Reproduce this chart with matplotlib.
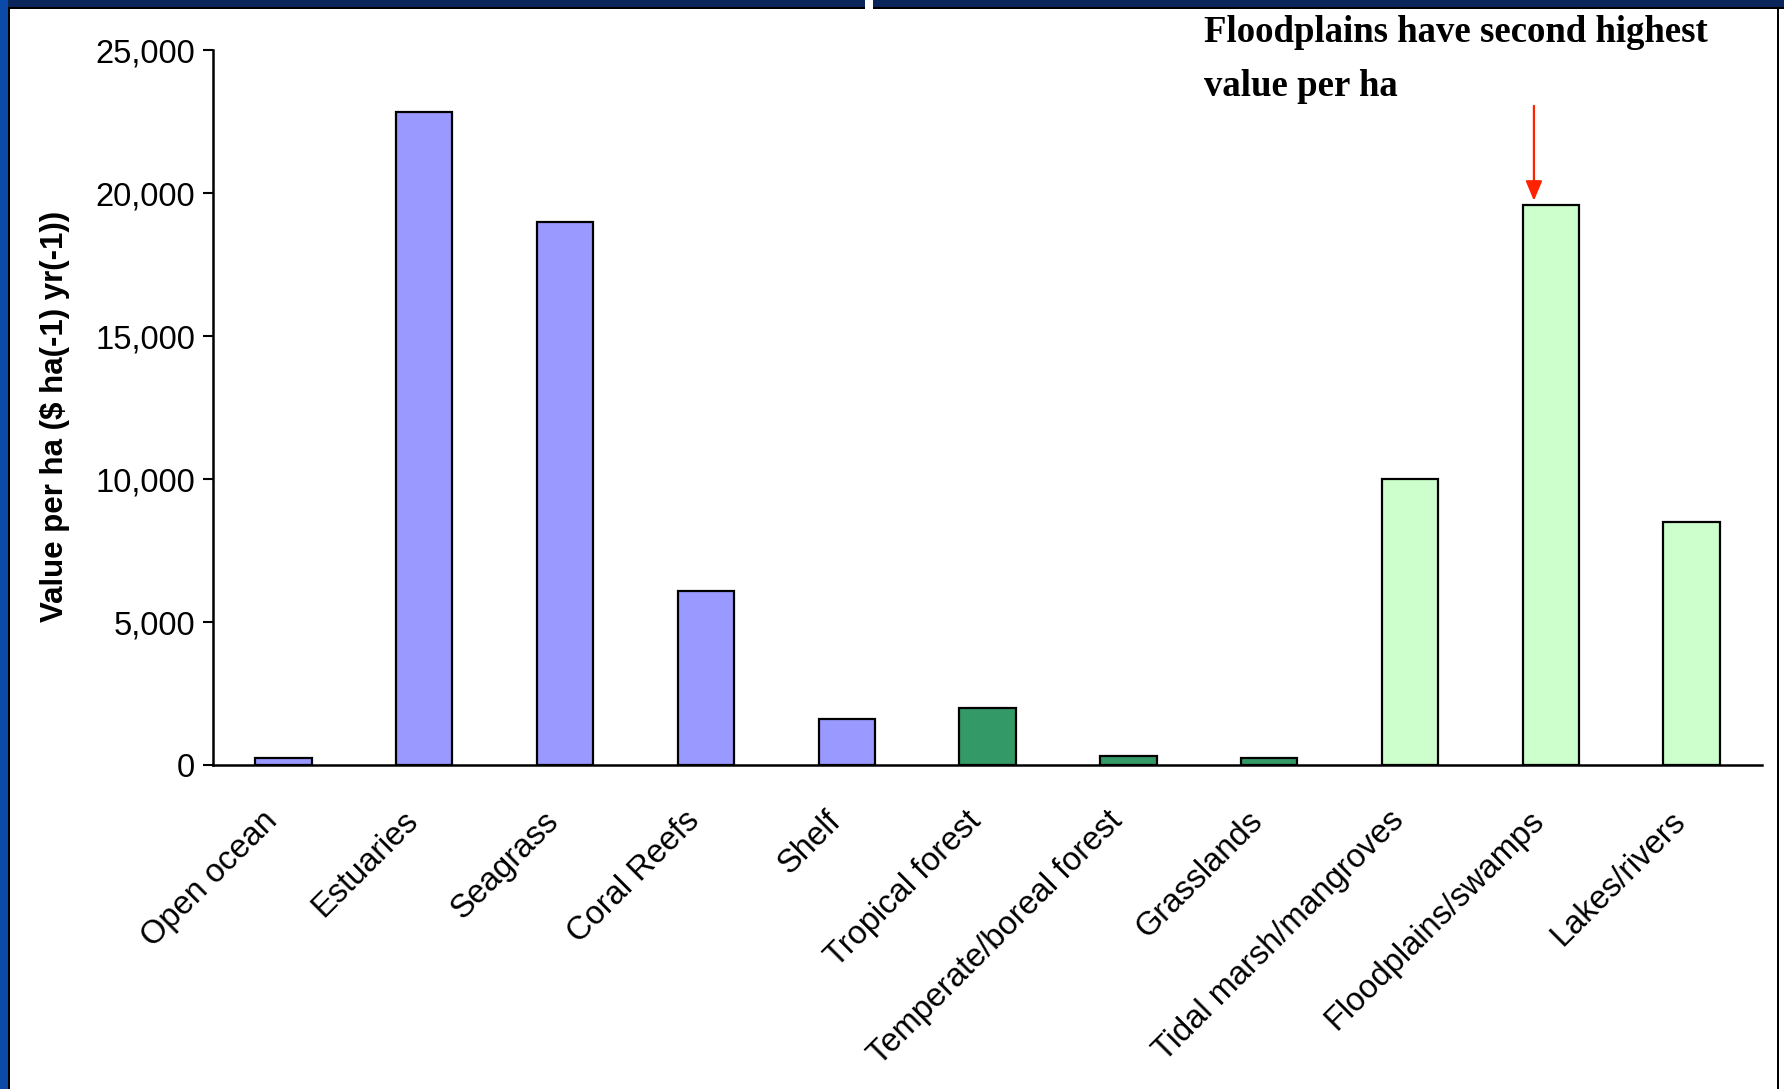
import matplotlib
matplotlib.use("Agg")
from matplotlib import pyplot as plt
from matplotlib.patches import Rectangle
from matplotlib.ticker import FuncFormatter

# ecosystem service value per hectare (Costanza et al. 1997)
categories = ["Open ocean", "Estuaries", "Seagrass", "Coral Reefs", "Shelf",
              "Tropical forest", "Temperate/boreal forest", "Grasslands",
              "Tidal marsh/mangroves", "Floodplains/swamps", "Lakes/rivers"]
values = [252, 22832, 19004, 6075, 1610, 2007, 302, 232, 9990, 19580, 8498]
groups = ["marine", "marine", "marine", "marine", "marine",
          "land", "land", "land",
          "wetland", "wetland", "wetland"]
group_colors = {"marine": "#9999FF", "land": "#339966", "wetland": "#CCFFCC"}

y_ticks = [0, 5000, 10000, 15000, 20000, 25000]

note_lines = ["Floodplains have second highest", "value per ha"]
highlight = "Floodplains/swamps"

plt.rcParams["font.family"] = ["Liberation Sans", "DejaVu Sans"]

fig = plt.figure(figsize=(17.84, 10.89), dpi=100)
fig.patch.set_facecolor("white")
ax = fig.add_axes([0.1194, 0.2975, 0.8683, 0.6565])

x = list(range(len(categories)))
colors = [group_colors[g] for g in groups]
ax.bar(x, values, width=0.4, color=colors, edgecolor="black", linewidth=1.6, zorder=3)

ax.set_xlim(-0.5, len(categories) - 0.5)
ax.set_ylim(0, 25000)
ax.set_yticks(y_ticks)
ax.yaxis.set_major_formatter(FuncFormatter(lambda v, p: f"{int(v):,}"))
ax.set_xticks(x)
ax.set_xticklabels(categories, rotation=45, ha="right", rotation_mode="default")

ax.tick_params(axis="y", labelsize=23.5, length=7, width=1.5, pad=6, direction="out")
ax.tick_params(axis="x", labelsize=23.5, length=0, pad=29)

for side in ["top", "right"]:
    ax.spines[side].set_visible(False)
for side in ["left", "bottom"]:
    ax.spines[side].set_linewidth(1.8)

ax.set_ylabel("Value per ha ($ ha(-1) yr(-1))", fontsize=22.5, fontweight="bold")
ax.yaxis.set_label_coords(-0.092, 0.487)

# red arrow pointing at the floodplains bar
i = categories.index(highlight)
ax.annotate("", xy=(i - 0.12, values[i] + 150), xytext=(i - 0.12, 23050),
            arrowprops=dict(arrowstyle="-|>,head_length=0.6,head_width=0.25",
                            color="#FF2200", lw=1.6, mutation_scale=20,
                            shrinkA=0, shrinkB=0),
            annotation_clip=False)

fig.text(0.675, 0.9614, note_lines[0], fontsize=26.5, family="Liberation Serif",
         fontweight="bold", va="baseline", ha="left")
fig.text(0.675, 0.9118, note_lines[1], fontsize=26.5, family="Liberation Serif",
         fontweight="bold", va="baseline", ha="left")

# slide frame remnants: navy band at top, blue band on the left
fig.add_artist(Rectangle((0, 1 - 7 / 1089), 1, 7 / 1089, transform=fig.transFigure,
                         facecolor="#0A2559", edgecolor="none"))
fig.add_artist(Rectangle((0, 1 - 9 / 1089), 1, 2 / 1089, transform=fig.transFigure,
                         facecolor="black", edgecolor="none"))
fig.add_artist(Rectangle((865 / 1784, 1 - 9 / 1089), 8 / 1784, 9 / 1089,
                         transform=fig.transFigure, facecolor="white", edgecolor="none"))
fig.add_artist(Rectangle((0, 0), 8 / 1784, 1, transform=fig.transFigure,
                         facecolor="#0B4AA8", edgecolor="none"))
fig.add_artist(Rectangle((8 / 1784, 0), 2 / 1784, 1 - 7 / 1089, transform=fig.transFigure,
                         facecolor="black", edgecolor="none"))
fig.add_artist(Rectangle((1777 / 1784, 0), 2 / 1784, 1 - 7 / 1089, transform=fig.transFigure,
                         facecolor="black", edgecolor="none"))

fig.savefig("out.png", dpi=100, facecolor="white")
